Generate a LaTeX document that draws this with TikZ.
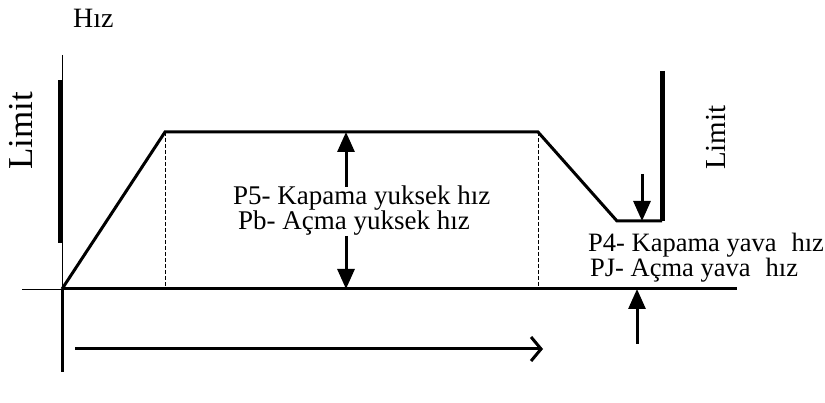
\documentclass[tikz,border=0pt]{standalone}
\usepackage{fontspec}
\setmainfont{Liberation Serif}
\usetikzlibrary{arrows.meta}
\newcommand{\fsz}[1]{\fontsize{#1}{24}\selectfont}
\begin{document}
\begin{tikzpicture}[x=1pt, y=-1pt,
    txt/.style={inner sep=0pt, anchor=base west, align=left},
    limitbar/.style={line width=5pt},
    curve/.style={line width=3pt},
    guide/.style={thin, dash pattern=on 4pt off 2pt},
    pointer/.style={line width=3pt, -{Triangle[length=20pt, width=17pt]}}]
    \useasboundingbox (0, 0) rectangle (825, 403);
    % axes
    \coordinate (O) at (62, 289);
    \draw[thin] (62, 55) -- (O);
    \draw[line width=3pt] (O) -- (62, 372);
    \draw[thin] (22, 289) -- (O);
    \draw[line width=3pt] (O) -- (737, 289);
    % speed profile
    \coordinate (a) at (165, 132);
    \coordinate (b) at (538, 132);
    \coordinate (c) at (617, 221);
    \coordinate (d) at (662, 221);
    \draw[curve, line join=miter] (O) -- (a) -- (b) -- (c) -- (d);
    \draw[guide] (a) -- (165, 289);
    \draw[guide] (b) -- (538, 289);
    % limits
    \draw[limitbar] (60, 80) -- (60, 243);
    \draw[limitbar] (662, 71) -- (d);
    \node[txt, rotate=90, font=\fsz{35}] (limL) at (32, 170) {Limit};
    \node[txt, rotate=90, font=\fsz{29}] (limR) at (725, 170) {Limit};
    \node[txt, font=\fsz{28}] (hiz) at (73, 28) {Hız};
    % high speed (base = last line)
    \node[txt, font=\fsz{27}] (high) at (233, 230)
        {P5- Kapama yuksek hız\\ \hspace*{5pt}Pb- Açma yuksek hız};
    \draw[pointer] (346, 187) -- (346, 132);
    \draw[pointer] (346, 236) -- (346, 289);
    % low speed
    \node[txt, font=\fsz{26.5}] (low) at (588, 276.5)
        {P4- Kapama yava\hspace{15pt}hız\\ \hspace*{2pt}PJ- Açma yava\hspace{15pt}hız};
    \draw[pointer] (642, 174) -- (642, 221);
    \draw[pointer] (637, 344) -- (637, 289);
    % direction
    \draw[line width=3pt, -{Straight Barb[length=10pt, width=24pt, line width=3pt]}] (75, 349) -- (543, 349);
\end{tikzpicture}
\end{document}
